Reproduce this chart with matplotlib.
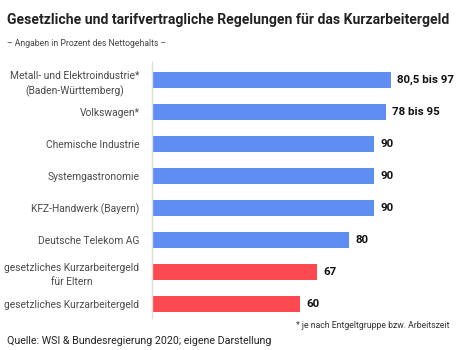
import matplotlib
matplotlib.use("Agg")
import matplotlib.pyplot as plt

W, H = 467, 350
plt.rcParams['font.family'] = ['Roboto', 'DejaVu Sans']

categories = [
    "Metall- und Elektroindustrie*\n(Baden-Württemberg)",
    "Volkswagen*",
    "Chemische Industrie",
    "Systemgastronomie",
    "KFZ-Handwerk (Bayern)",
    "Deutsche Telekom AG",
    "gesetzliches Kurzarbeitergeld\nfür Eltern",
    "gesetzliches Kurzarbeitergeld",
]
values = [97, 95, 90, 90, 90, 80, 67, 60]
value_labels = ["80,5 bis 97", "78 bis 95", "90", "90", "90", "80", "67", "60"]
groups = ["tarif"] * 6 + ["gesetz"] * 2

colors = {"tarif": "#5f8ef3", "gesetz": "#fd4a50"}

fig = plt.figure(figsize=(W / 100, H / 100), dpi=100)
renderer = fig.canvas.get_renderer()


def fx(px):
    return px / W


def fy(py):
    return 1 - py / H


def fit_size(sample, target_px, base=10, **kw):
    t = fig.text(0, 0, sample, fontsize=base, **kw)
    w = t.get_window_extent(renderer).width
    t.remove()
    return base * target_px / w


ax_left, ax_top, ax_bottom = 152, 62, 318
ax = fig.add_axes([fx(ax_left), fy(ax_bottom), fx(W - ax_left), (ax_bottom - ax_top) / H])

ypos = list(range(len(categories)))
ax.barh(ypos, values, height=0.47, color=[colors[g] for g in groups])
ax.set_xlim(0, (W - ax_left) / 2.467)
ax.set_ylim(len(categories) - 1 + 0.4375, -0.5625)

val_fs = fit_size("80,5 bis 97", 57, fontweight="bold")
for y, v, lab in zip(ypos, values, value_labels):
    ax.annotate(lab, (v, y), xytext=(4.3, 0), textcoords="offset points",
                va="center", ha="left", fontsize=val_fs, fontweight="bold", color="#111111")

lab_fs = fit_size("Chemische Industrie", 94)
ax.set_yticks(ypos)
ax.set_yticklabels(categories, fontsize=lab_fs, color="#4a4a4a", multialignment="center",
                   linespacing=1.5)
ax.tick_params(axis="y", length=0, pad=9)
ax.set_xticks([])
for s in ["top", "right", "bottom"]:
    ax.spines[s].set_visible(False)
ax.spines["left"].set_color("#dedede")
ax.spines["left"].set_linewidth(1.0)

title = "Gesetzliche und tarifvertragliche Regelungen für das Kurzarbeitergeld"
subtitle = "– Angaben in Prozent des Nettogehalts –"
footnote = "* je nach Entgeltgruppe bzw. Arbeitszeit"
source = "Quelle: WSI & Bundesregierung 2020; eigene Darstellung"

fig.text(fx(7), fy(20), title, fontsize=fit_size(title, 440, fontweight="bold"),
         fontweight="bold", color="#222222", va="center", ha="left")
fig.text(fx(7), fy(44), subtitle, fontsize=fit_size(subtitle, 158),
         color="#444444", va="center", ha="left")
fig.text(fx(450), fy(326), footnote, fontsize=fit_size(footnote, 153),
         color="#333333", va="center", ha="right")
fig.text(fx(7), fy(341), source, fontsize=fit_size(source, 263),
         color="#222222", va="center", ha="left")

fig.savefig("out.png", dpi=100)
